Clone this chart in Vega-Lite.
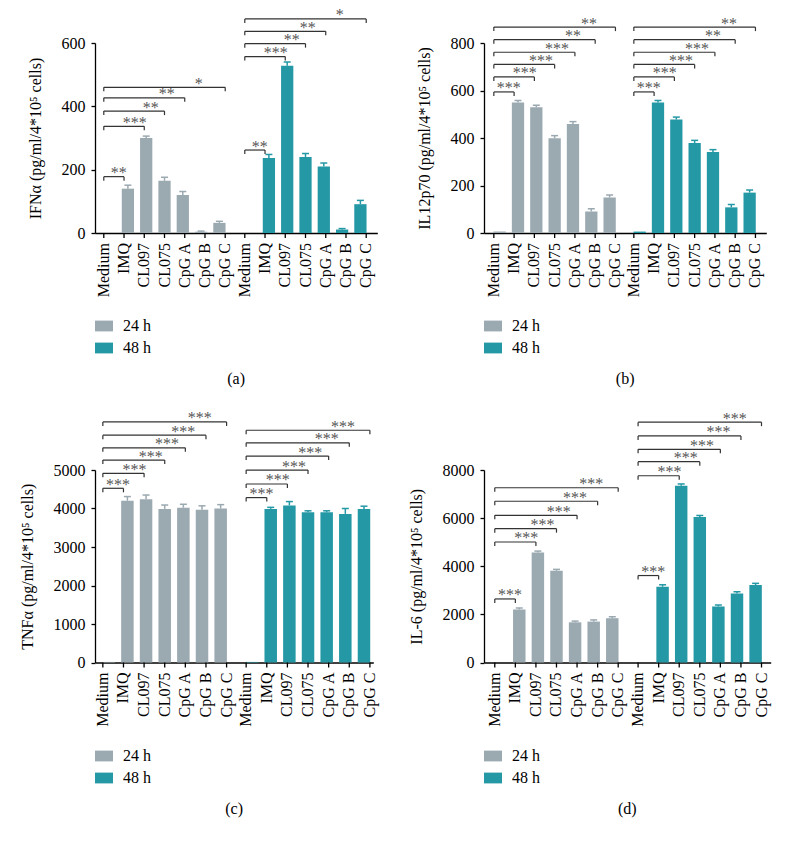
{
  "$schema": "https://vega.github.io/schema/vega-lite/v6.json",
  "padding": {"left": 19, "top": 7, "right": 5, "bottom": 5},
  "background": "white",
  "config": {
    "font": "Liberation Serif",
    "view": {"stroke": null},
    "axis": {"labelFont": "Liberation Serif", "titleFont": "Liberation Serif", "labelFontSize": 16, "titleFontSize": 16, "titleFontWeight": "normal", "labelColor": "#000", "titleColor": "#000", "domainColor": "#000", "tickColor": "#000", "grid": false, "domainWidth": 1.3, "tickWidth": 1.3, "tickSize": 4, "labelPadding": 6, "titlePadding": 18, "labelOverlap": false},
    "legend": {"labelFont": "Liberation Serif", "labelFontSize": 16, "labelColor": "#000"},
    "title": {"font": "Liberation Serif", "fontSize": 16, "fontWeight": "normal", "color": "#000"}
  },
  "datasets": {
    "bars": [
      {"panel": "a", "time": "24 h", "treatment": "Medium", "value": 0, "upper": null},
      {"panel": "a", "time": "24 h", "treatment": "IMQ", "value": 140, "upper": 151},
      {"panel": "a", "time": "24 h", "treatment": "CL097", "value": 300, "upper": 306},
      {"panel": "a", "time": "24 h", "treatment": "CL075", "value": 165, "upper": 176},
      {"panel": "a", "time": "24 h", "treatment": "CpG A", "value": 120, "upper": 131},
      {"panel": "a", "time": "24 h", "treatment": "CpG B", "value": 4, "upper": 6},
      {"panel": "a", "time": "24 h", "treatment": "CpG C", "value": 32, "upper": 37},
      {"panel": "a", "time": "48 h", "treatment": "Medium", "value": 0, "upper": null},
      {"panel": "a", "time": "48 h", "treatment": "IMQ", "value": 237, "upper": 248},
      {"panel": "a", "time": "48 h", "treatment": "CL097", "value": 528, "upper": 540},
      {"panel": "a", "time": "48 h", "treatment": "CL075", "value": 240, "upper": 251},
      {"panel": "a", "time": "48 h", "treatment": "CpG A", "value": 210, "upper": 221},
      {"panel": "a", "time": "48 h", "treatment": "CpG B", "value": 11, "upper": 14},
      {"panel": "a", "time": "48 h", "treatment": "CpG C", "value": 91, "upper": 103},
      {"panel": "b", "time": "24 h", "treatment": "Medium", "value": 6, "upper": null},
      {"panel": "b", "time": "24 h", "treatment": "IMQ", "value": 550, "upper": 558},
      {"panel": "b", "time": "24 h", "treatment": "CL097", "value": 529, "upper": 538},
      {"panel": "b", "time": "24 h", "treatment": "CL075", "value": 399, "upper": 410},
      {"panel": "b", "time": "24 h", "treatment": "CpG A", "value": 459, "upper": 469},
      {"panel": "b", "time": "24 h", "treatment": "CpG B", "value": 91, "upper": 102},
      {"panel": "b", "time": "24 h", "treatment": "CpG C", "value": 149, "upper": 160},
      {"panel": "b", "time": "48 h", "treatment": "Medium", "value": 6, "upper": null},
      {"panel": "b", "time": "48 h", "treatment": "IMQ", "value": 550, "upper": 558},
      {"panel": "b", "time": "48 h", "treatment": "CL097", "value": 478, "upper": 488},
      {"panel": "b", "time": "48 h", "treatment": "CL075", "value": 379, "upper": 390},
      {"panel": "b", "time": "48 h", "treatment": "CpG A", "value": 341, "upper": 351},
      {"panel": "b", "time": "48 h", "treatment": "CpG B", "value": 108, "upper": 120},
      {"panel": "b", "time": "48 h", "treatment": "CpG C", "value": 170, "upper": 181},
      {"panel": "c", "time": "24 h", "treatment": "Medium", "value": 15, "upper": null},
      {"panel": "c", "time": "24 h", "treatment": "IMQ", "value": 4200, "upper": 4310},
      {"panel": "c", "time": "24 h", "treatment": "CL097", "value": 4240, "upper": 4350},
      {"panel": "c", "time": "24 h", "treatment": "CL075", "value": 3990, "upper": 4090},
      {"panel": "c", "time": "24 h", "treatment": "CpG A", "value": 4020, "upper": 4110},
      {"panel": "c", "time": "24 h", "treatment": "CpG B", "value": 3970, "upper": 4070},
      {"panel": "c", "time": "24 h", "treatment": "CpG C", "value": 4000, "upper": 4100},
      {"panel": "c", "time": "48 h", "treatment": "Medium", "value": 15, "upper": null},
      {"panel": "c", "time": "48 h", "treatment": "IMQ", "value": 3990, "upper": 4030},
      {"panel": "c", "time": "48 h", "treatment": "CL097", "value": 4080, "upper": 4180},
      {"panel": "c", "time": "48 h", "treatment": "CL075", "value": 3900, "upper": 3940},
      {"panel": "c", "time": "48 h", "treatment": "CpG A", "value": 3900, "upper": 3940},
      {"panel": "c", "time": "48 h", "treatment": "CpG B", "value": 3860, "upper": 4000},
      {"panel": "c", "time": "48 h", "treatment": "CpG C", "value": 3990, "upper": 4060},
      {"panel": "d", "time": "24 h", "treatment": "Medium", "value": 0, "upper": null},
      {"panel": "d", "time": "24 h", "treatment": "IMQ", "value": 2200, "upper": 2270},
      {"panel": "d", "time": "24 h", "treatment": "CL097", "value": 4570, "upper": 4630},
      {"panel": "d", "time": "24 h", "treatment": "CL075", "value": 3810, "upper": 3870},
      {"panel": "d", "time": "24 h", "treatment": "CpG A", "value": 1670, "upper": 1720},
      {"panel": "d", "time": "24 h", "treatment": "CpG B", "value": 1700, "upper": 1770},
      {"panel": "d", "time": "24 h", "treatment": "CpG C", "value": 1840, "upper": 1900},
      {"panel": "d", "time": "48 h", "treatment": "Medium", "value": 0, "upper": null},
      {"panel": "d", "time": "48 h", "treatment": "IMQ", "value": 3150, "upper": 3230},
      {"panel": "d", "time": "48 h", "treatment": "CL097", "value": 7350, "upper": 7420},
      {"panel": "d", "time": "48 h", "treatment": "CL075", "value": 6050, "upper": 6110},
      {"panel": "d", "time": "48 h", "treatment": "CpG A", "value": 2330, "upper": 2390},
      {"panel": "d", "time": "48 h", "treatment": "CpG B", "value": 2870, "upper": 2940},
      {"panel": "d", "time": "48 h", "treatment": "CpG C", "value": 3220, "upper": 3290}
    ],
    "brackets": [
      {"panel": "a", "time": "24 h", "from": "Medium", "to": "IMQ", "level": 178, "label": "**"},
      {"panel": "a", "time": "24 h", "from": "Medium", "to": "CL097", "level": 337, "label": "***"},
      {"panel": "a", "time": "24 h", "from": "Medium", "to": "CL075", "level": 385, "label": "**"},
      {"panel": "a", "time": "24 h", "from": "Medium", "to": "CpG A", "level": 427, "label": "**"},
      {"panel": "a", "time": "24 h", "from": "Medium", "to": "CpG C", "level": 460, "label": "*"},
      {"panel": "a", "time": "48 h", "from": "Medium", "to": "IMQ", "level": 262, "label": "**"},
      {"panel": "a", "time": "48 h", "from": "Medium", "to": "CL097", "level": 557, "label": "***"},
      {"panel": "a", "time": "48 h", "from": "Medium", "to": "CL075", "level": 598, "label": "**"},
      {"panel": "a", "time": "48 h", "from": "Medium", "to": "CpG A", "level": 637, "label": "**"},
      {"panel": "a", "time": "48 h", "from": "Medium", "to": "CpG C", "level": 676, "label": "*"},
      {"panel": "b", "time": "24 h", "from": "Medium", "to": "IMQ", "level": 594, "label": "***"},
      {"panel": "b", "time": "24 h", "from": "Medium", "to": "CL097", "level": 657, "label": "***"},
      {"panel": "b", "time": "24 h", "from": "Medium", "to": "CL075", "level": 710, "label": "***"},
      {"panel": "b", "time": "24 h", "from": "Medium", "to": "CpG A", "level": 761, "label": "***"},
      {"panel": "b", "time": "24 h", "from": "Medium", "to": "CpG B", "level": 814, "label": "**"},
      {"panel": "b", "time": "24 h", "from": "Medium", "to": "CpG C", "level": 867, "label": "**"},
      {"panel": "b", "time": "48 h", "from": "Medium", "to": "IMQ", "level": 594, "label": "***"},
      {"panel": "b", "time": "48 h", "from": "Medium", "to": "CL097", "level": 657, "label": "***"},
      {"panel": "b", "time": "48 h", "from": "Medium", "to": "CL075", "level": 710, "label": "***"},
      {"panel": "b", "time": "48 h", "from": "Medium", "to": "CpG A", "level": 761, "label": "***"},
      {"panel": "b", "time": "48 h", "from": "Medium", "to": "CpG B", "level": 814, "label": "**"},
      {"panel": "b", "time": "48 h", "from": "Medium", "to": "CpG C", "level": 867, "label": "**"},
      {"panel": "c", "time": "24 h", "from": "Medium", "to": "IMQ", "level": 4525, "label": "***"},
      {"panel": "c", "time": "24 h", "from": "Medium", "to": "CL097", "level": 4913, "label": "***"},
      {"panel": "c", "time": "24 h", "from": "Medium", "to": "CL075", "level": 5257, "label": "***"},
      {"panel": "c", "time": "24 h", "from": "Medium", "to": "CpG A", "level": 5576, "label": "***"},
      {"panel": "c", "time": "24 h", "from": "Medium", "to": "CpG B", "level": 5904, "label": "***"},
      {"panel": "c", "time": "24 h", "from": "Medium", "to": "CpG C", "level": 6248, "label": "***"},
      {"panel": "c", "time": "48 h", "from": "Medium", "to": "IMQ", "level": 4283, "label": "***"},
      {"panel": "c", "time": "48 h", "from": "Medium", "to": "CL097", "level": 4637, "label": "***"},
      {"panel": "c", "time": "48 h", "from": "Medium", "to": "CL075", "level": 4999, "label": "***"},
      {"panel": "c", "time": "48 h", "from": "Medium", "to": "CpG A", "level": 5361, "label": "***"},
      {"panel": "c", "time": "48 h", "from": "Medium", "to": "CpG B", "level": 5705, "label": "***"},
      {"panel": "c", "time": "48 h", "from": "Medium", "to": "CpG C", "level": 6033, "label": "***"},
      {"panel": "d", "time": "24 h", "from": "Medium", "to": "IMQ", "level": 2641, "label": "***"},
      {"panel": "d", "time": "24 h", "from": "Medium", "to": "CL097", "level": 5008, "label": "***"},
      {"panel": "d", "time": "24 h", "from": "Medium", "to": "CL075", "level": 5563, "label": "***"},
      {"panel": "d", "time": "24 h", "from": "Medium", "to": "CpG A", "level": 6118, "label": "***"},
      {"panel": "d", "time": "24 h", "from": "Medium", "to": "CpG B", "level": 6702, "label": "***"},
      {"panel": "d", "time": "24 h", "from": "Medium", "to": "CpG C", "level": 7262, "label": "***"},
      {"panel": "d", "time": "48 h", "from": "Medium", "to": "IMQ", "level": 3614, "label": "***"},
      {"panel": "d", "time": "48 h", "from": "Medium", "to": "CL097", "level": 7762, "label": "***"},
      {"panel": "d", "time": "48 h", "from": "Medium", "to": "CL075", "level": 8347, "label": "***"},
      {"panel": "d", "time": "48 h", "from": "Medium", "to": "CpG A", "level": 8860, "label": "***"},
      {"panel": "d", "time": "48 h", "from": "Medium", "to": "CpG B", "level": 9415, "label": "***"},
      {"panel": "d", "time": "48 h", "from": "Medium", "to": "CpG C", "level": 9987, "label": "***"}
    ]
  },
  "resolve": {"legend": {"color": "independent"}},
  "columns": 2,
  "spacing": {"row": 23, "column": 30},
  "concat": [
    {
      "width": 282.3, "height": 190,
      "title": {"text": "(a)", "orient": "bottom", "anchor": "middle", "offset": 15},
      "resolve": {"scale": {"xOffset": "independent"}},
      "layer": [
        {"data": {"name": "bars"}, "transform": [{"filter": "datum.panel == 'a'"}], "mark": {"type": "bar"},
         "encoding": {
           "x": {"field": "time", "type": "nominal", "scale": {"domain": ["24 h", "48 h"], "paddingInner": 0.0915, "paddingOuter": 0.0468, "align": 0.413}, "axis": {"labels": false, "ticks": false, "title": null}},
           "xOffset": {"field": "treatment", "type": "nominal", "scale": {"domain": ["Medium", "IMQ", "CL097", "CL075", "CpG A", "CpG B", "CpG C"], "paddingInner": 0.33, "paddingOuter": 0.165}},
           "y": {"field": "value", "type": "quantitative", "scale": {"domain": [0, 600]}, "axis": {"values": [0, 200, 400, 600], "tickCount": 10, "format": "d", "title": "IFNα (pg/ml/4*10⁵ cells)"}},
           "color": {"field": "time", "type": "nominal", "scale": {"domain": ["24 h", "48 h"], "range": ["#9ba9b1", "#2598a5"]}, "legend": {"orient": "bottom", "direction": "vertical", "title": null, "symbolType": "M-1,-0.6H1V0.6H-1Z", "symbolSize": 324, "symbolStrokeWidth": 0, "labelOffset": 10, "rowPadding": 5, "offset": 84}}
         }},
        {"data": {"name": "bars"}, "transform": [{"filter": "datum.panel == 'a' && datum.upper != null"}], "mark": {"type": "rule", "strokeWidth": 1.5},
         "encoding": {
           "x": {"field": "time", "type": "nominal"},
           "xOffset": {"field": "treatment", "type": "nominal", "scale": {"domain": ["Medium", "IMQ", "CL097", "CL075", "CpG A", "CpG B", "CpG C"], "paddingInner": 0.33, "paddingOuter": 0.165}},
           "y": {"field": "value", "type": "quantitative"}, "y2": {"field": "upper"},
           "color": {"field": "time", "type": "nominal", "legend": null}
         }},
        {"data": {"name": "bars"}, "transform": [{"filter": "datum.panel == 'a' && datum.upper != null"}], "mark": {"type": "tick", "size": 7, "thickness": 1.5, "opacity": 1},
         "encoding": {
           "x": {"field": "time", "type": "nominal"},
           "xOffset": {"field": "treatment", "type": "nominal", "scale": {"domain": ["Medium", "IMQ", "CL097", "CL075", "CpG A", "CpG B", "CpG C"], "paddingInner": 0.33, "paddingOuter": 0.165}},
           "y": {"field": "upper", "type": "quantitative"},
           "color": {"field": "time", "type": "nominal", "legend": null}
         }},
        {"data": {"name": "bars"}, "transform": [{"filter": "datum.panel == 'a'"}], "mark": {"type": "point", "shape": "M0,0L0,1", "size": 100, "filled": false, "color": "#000", "strokeWidth": 1.3, "opacity": 1},
         "encoding": {
           "x": {"field": "time", "type": "nominal"},
           "xOffset": {"field": "treatment", "type": "nominal", "scale": {"domain": ["Medium", "IMQ", "CL097", "CL075", "CpG A", "CpG B", "CpG C"], "paddingInner": 0.33, "paddingOuter": 0.165}},
           "y": {"datum": 0}
         }},
        {"data": {"name": "bars"}, "transform": [{"filter": "datum.panel == 'a'"}], "mark": {"type": "text", "angle": 270, "align": "right", "baseline": "middle", "dx": -10, "fontSize": 16, "color": "#000"},
         "encoding": {
           "x": {"field": "time", "type": "nominal"},
           "xOffset": {"field": "treatment", "type": "nominal", "scale": {"domain": ["Medium", "IMQ", "CL097", "CL075", "CpG A", "CpG B", "CpG C"], "paddingInner": 0.33, "paddingOuter": 0.165}},
           "y": {"datum": 0},
           "text": {"field": "treatment"}
         }},
        {"data": {"name": "brackets"}, "transform": [{"filter": "datum.panel == 'a'"}, {"fold": ["from", "to"], "as": ["end", "treatment"]}], "mark": {"type": "line", "color": "#333", "strokeWidth": 1.2},
         "encoding": {
           "x": {"field": "time", "type": "nominal"},
           "xOffset": {"field": "treatment", "type": "nominal", "scale": {"domain": ["Medium", "IMQ", "CL097", "CL075", "CpG A", "CpG B", "CpG C"], "paddingInner": 0.33, "paddingOuter": 0.165}},
           "y": {"field": "level", "type": "quantitative"},
           "detail": [{"field": "time"}, {"field": "to"}]
         }},
        {"data": {"name": "brackets"}, "transform": [{"filter": "datum.panel == 'a'"}, {"fold": ["from", "to"], "as": ["end", "treatment"]}], "mark": {"type": "point", "shape": "M0,0L0,1", "size": 64, "filled": false, "color": "#333", "strokeWidth": 1.2, "opacity": 1},
         "encoding": {
           "x": {"field": "time", "type": "nominal"},
           "xOffset": {"field": "treatment", "type": "nominal", "scale": {"domain": ["Medium", "IMQ", "CL097", "CL075", "CpG A", "CpG B", "CpG C"], "paddingInner": 0.33, "paddingOuter": 0.165}},
           "y": {"field": "level", "type": "quantitative"}
         }},
        {"data": {"name": "brackets"}, "transform": [{"filter": "datum.panel == 'a'"}], "mark": {"type": "text", "baseline": "alphabetic", "align": "center", "dy": 1.5, "fontSize": 16, "color": "#555"},
         "encoding": {
           "x": {"field": "time", "type": "nominal"},
           "xOffset": {"field": "to", "type": "nominal", "scale": {"domain": ["Medium", "IMQ", "CL097", "CL075", "CpG A", "CpG B", "CpG C"], "paddingInner": 0, "paddingOuter": 3.5, "align": 0.0714286}},
           "y": {"field": "level", "type": "quantitative"},
           "text": {"field": "label"}
         }}
      ]
    },
    {
      "width": 282.3, "height": 190,
      "title": {"text": "(b)", "orient": "bottom", "anchor": "middle", "offset": 15},
      "resolve": {"scale": {"xOffset": "independent"}},
      "layer": [
        {"data": {"name": "bars"}, "transform": [{"filter": "datum.panel == 'b'"}], "mark": {"type": "bar"},
         "encoding": {
           "x": {"field": "time", "type": "nominal", "scale": {"domain": ["24 h", "48 h"], "paddingInner": 0.0836, "paddingOuter": 0.05, "align": 0.464}, "axis": {"labels": false, "ticks": false, "title": null}},
           "xOffset": {"field": "treatment", "type": "nominal", "scale": {"domain": ["Medium", "IMQ", "CL097", "CL075", "CpG A", "CpG B", "CpG C"], "paddingInner": 0.33, "paddingOuter": 0.165}},
           "y": {"field": "value", "type": "quantitative", "scale": {"domain": [0, 800]}, "axis": {"values": [0, 200, 400, 600, 800], "tickCount": 10, "format": "d", "title": "IL12p70 (pg/ml/4*10⁵ cells)"}},
           "color": {"field": "time", "type": "nominal", "scale": {"domain": ["24 h", "48 h"], "range": ["#9ba9b1", "#2598a5"]}, "legend": {"orient": "bottom", "direction": "vertical", "title": null, "symbolType": "M-1,-0.6H1V0.6H-1Z", "symbolSize": 324, "symbolStrokeWidth": 0, "labelOffset": 10, "rowPadding": 5, "offset": 84}}
         }},
        {"data": {"name": "bars"}, "transform": [{"filter": "datum.panel == 'b' && datum.upper != null"}], "mark": {"type": "rule", "strokeWidth": 1.5},
         "encoding": {
           "x": {"field": "time", "type": "nominal"},
           "xOffset": {"field": "treatment", "type": "nominal", "scale": {"domain": ["Medium", "IMQ", "CL097", "CL075", "CpG A", "CpG B", "CpG C"], "paddingInner": 0.33, "paddingOuter": 0.165}},
           "y": {"field": "value", "type": "quantitative"}, "y2": {"field": "upper"},
           "color": {"field": "time", "type": "nominal", "legend": null}
         }},
        {"data": {"name": "bars"}, "transform": [{"filter": "datum.panel == 'b' && datum.upper != null"}], "mark": {"type": "tick", "size": 7, "thickness": 1.5, "opacity": 1},
         "encoding": {
           "x": {"field": "time", "type": "nominal"},
           "xOffset": {"field": "treatment", "type": "nominal", "scale": {"domain": ["Medium", "IMQ", "CL097", "CL075", "CpG A", "CpG B", "CpG C"], "paddingInner": 0.33, "paddingOuter": 0.165}},
           "y": {"field": "upper", "type": "quantitative"},
           "color": {"field": "time", "type": "nominal", "legend": null}
         }},
        {"data": {"name": "bars"}, "transform": [{"filter": "datum.panel == 'b'"}], "mark": {"type": "point", "shape": "M0,0L0,1", "size": 100, "filled": false, "color": "#000", "strokeWidth": 1.3, "opacity": 1},
         "encoding": {
           "x": {"field": "time", "type": "nominal"},
           "xOffset": {"field": "treatment", "type": "nominal", "scale": {"domain": ["Medium", "IMQ", "CL097", "CL075", "CpG A", "CpG B", "CpG C"], "paddingInner": 0.33, "paddingOuter": 0.165}},
           "y": {"datum": 0}
         }},
        {"data": {"name": "bars"}, "transform": [{"filter": "datum.panel == 'b'"}], "mark": {"type": "text", "angle": 270, "align": "right", "baseline": "middle", "dx": -10, "fontSize": 16, "color": "#000"},
         "encoding": {
           "x": {"field": "time", "type": "nominal"},
           "xOffset": {"field": "treatment", "type": "nominal", "scale": {"domain": ["Medium", "IMQ", "CL097", "CL075", "CpG A", "CpG B", "CpG C"], "paddingInner": 0.33, "paddingOuter": 0.165}},
           "y": {"datum": 0},
           "text": {"field": "treatment"}
         }},
        {"data": {"name": "brackets"}, "transform": [{"filter": "datum.panel == 'b'"}, {"fold": ["from", "to"], "as": ["end", "treatment"]}], "mark": {"type": "line", "color": "#333", "strokeWidth": 1.2},
         "encoding": {
           "x": {"field": "time", "type": "nominal"},
           "xOffset": {"field": "treatment", "type": "nominal", "scale": {"domain": ["Medium", "IMQ", "CL097", "CL075", "CpG A", "CpG B", "CpG C"], "paddingInner": 0.33, "paddingOuter": 0.165}},
           "y": {"field": "level", "type": "quantitative"},
           "detail": [{"field": "time"}, {"field": "to"}]
         }},
        {"data": {"name": "brackets"}, "transform": [{"filter": "datum.panel == 'b'"}, {"fold": ["from", "to"], "as": ["end", "treatment"]}], "mark": {"type": "point", "shape": "M0,0L0,1", "size": 64, "filled": false, "color": "#333", "strokeWidth": 1.2, "opacity": 1},
         "encoding": {
           "x": {"field": "time", "type": "nominal"},
           "xOffset": {"field": "treatment", "type": "nominal", "scale": {"domain": ["Medium", "IMQ", "CL097", "CL075", "CpG A", "CpG B", "CpG C"], "paddingInner": 0.33, "paddingOuter": 0.165}},
           "y": {"field": "level", "type": "quantitative"}
         }},
        {"data": {"name": "brackets"}, "transform": [{"filter": "datum.panel == 'b'"}], "mark": {"type": "text", "baseline": "alphabetic", "align": "center", "dy": 1.5, "fontSize": 16, "color": "#555"},
         "encoding": {
           "x": {"field": "time", "type": "nominal"},
           "xOffset": {"field": "to", "type": "nominal", "scale": {"domain": ["Medium", "IMQ", "CL097", "CL075", "CpG A", "CpG B", "CpG C"], "paddingInner": 0, "paddingOuter": 3.5, "align": 0.0714286}},
           "y": {"field": "level", "type": "quantitative"},
           "text": {"field": "label"}
         }}
      ]
    },
    {
      "width": 278.3, "height": 192.5,
      "title": {"text": "(c)", "orient": "bottom", "anchor": "middle", "offset": 15},
      "resolve": {"scale": {"xOffset": "independent"}},
      "layer": [
        {"data": {"name": "bars"}, "transform": [{"filter": "datum.panel == 'c'"}], "mark": {"type": "bar"},
         "encoding": {
           "x": {"field": "time", "type": "nominal", "scale": {"domain": ["24 h", "48 h"], "paddingInner": 0.089, "paddingOuter": 0.0155, "align": 1}, "axis": {"labels": false, "ticks": false, "title": null}},
           "xOffset": {"field": "treatment", "type": "nominal", "scale": {"domain": ["Medium", "IMQ", "CL097", "CL075", "CpG A", "CpG B", "CpG C"], "paddingInner": 0.33, "paddingOuter": 0.165}},
           "y": {"field": "value", "type": "quantitative", "scale": {"domain": [0, 5000]}, "axis": {"values": [0, 1000, 2000, 3000, 4000, 5000], "tickCount": 10, "format": "d", "title": "TNFα (pg/ml/4*10⁵ cells)"}},
           "color": {"field": "time", "type": "nominal", "scale": {"domain": ["24 h", "48 h"], "range": ["#9ba9b1", "#2598a5"]}, "legend": {"orient": "bottom", "direction": "vertical", "title": null, "symbolType": "M-1,-0.6H1V0.6H-1Z", "symbolSize": 324, "symbolStrokeWidth": 0, "labelOffset": 10, "rowPadding": 5, "offset": 84}}
         }},
        {"data": {"name": "bars"}, "transform": [{"filter": "datum.panel == 'c' && datum.upper != null"}], "mark": {"type": "rule", "strokeWidth": 1.5},
         "encoding": {
           "x": {"field": "time", "type": "nominal"},
           "xOffset": {"field": "treatment", "type": "nominal", "scale": {"domain": ["Medium", "IMQ", "CL097", "CL075", "CpG A", "CpG B", "CpG C"], "paddingInner": 0.33, "paddingOuter": 0.165}},
           "y": {"field": "value", "type": "quantitative"}, "y2": {"field": "upper"},
           "color": {"field": "time", "type": "nominal", "legend": null}
         }},
        {"data": {"name": "bars"}, "transform": [{"filter": "datum.panel == 'c' && datum.upper != null"}], "mark": {"type": "tick", "size": 7, "thickness": 1.5, "opacity": 1},
         "encoding": {
           "x": {"field": "time", "type": "nominal"},
           "xOffset": {"field": "treatment", "type": "nominal", "scale": {"domain": ["Medium", "IMQ", "CL097", "CL075", "CpG A", "CpG B", "CpG C"], "paddingInner": 0.33, "paddingOuter": 0.165}},
           "y": {"field": "upper", "type": "quantitative"},
           "color": {"field": "time", "type": "nominal", "legend": null}
         }},
        {"data": {"name": "bars"}, "transform": [{"filter": "datum.panel == 'c'"}], "mark": {"type": "point", "shape": "M0,0L0,1", "size": 100, "filled": false, "color": "#000", "strokeWidth": 1.3, "opacity": 1},
         "encoding": {
           "x": {"field": "time", "type": "nominal"},
           "xOffset": {"field": "treatment", "type": "nominal", "scale": {"domain": ["Medium", "IMQ", "CL097", "CL075", "CpG A", "CpG B", "CpG C"], "paddingInner": 0.33, "paddingOuter": 0.165}},
           "y": {"datum": 0}
         }},
        {"data": {"name": "bars"}, "transform": [{"filter": "datum.panel == 'c'"}], "mark": {"type": "text", "angle": 270, "align": "right", "baseline": "middle", "dx": -10, "fontSize": 16, "color": "#000"},
         "encoding": {
           "x": {"field": "time", "type": "nominal"},
           "xOffset": {"field": "treatment", "type": "nominal", "scale": {"domain": ["Medium", "IMQ", "CL097", "CL075", "CpG A", "CpG B", "CpG C"], "paddingInner": 0.33, "paddingOuter": 0.165}},
           "y": {"datum": 0},
           "text": {"field": "treatment"}
         }},
        {"data": {"name": "brackets"}, "transform": [{"filter": "datum.panel == 'c'"}, {"fold": ["from", "to"], "as": ["end", "treatment"]}], "mark": {"type": "line", "color": "#333", "strokeWidth": 1.2},
         "encoding": {
           "x": {"field": "time", "type": "nominal"},
           "xOffset": {"field": "treatment", "type": "nominal", "scale": {"domain": ["Medium", "IMQ", "CL097", "CL075", "CpG A", "CpG B", "CpG C"], "paddingInner": 0.33, "paddingOuter": 0.165}},
           "y": {"field": "level", "type": "quantitative"},
           "detail": [{"field": "time"}, {"field": "to"}]
         }},
        {"data": {"name": "brackets"}, "transform": [{"filter": "datum.panel == 'c'"}, {"fold": ["from", "to"], "as": ["end", "treatment"]}], "mark": {"type": "point", "shape": "M0,0L0,1", "size": 64, "filled": false, "color": "#333", "strokeWidth": 1.2, "opacity": 1},
         "encoding": {
           "x": {"field": "time", "type": "nominal"},
           "xOffset": {"field": "treatment", "type": "nominal", "scale": {"domain": ["Medium", "IMQ", "CL097", "CL075", "CpG A", "CpG B", "CpG C"], "paddingInner": 0.33, "paddingOuter": 0.165}},
           "y": {"field": "level", "type": "quantitative"}
         }},
        {"data": {"name": "brackets"}, "transform": [{"filter": "datum.panel == 'c'"}], "mark": {"type": "text", "baseline": "alphabetic", "align": "center", "dy": 1.5, "fontSize": 16, "color": "#555"},
         "encoding": {
           "x": {"field": "time", "type": "nominal"},
           "xOffset": {"field": "to", "type": "nominal", "scale": {"domain": ["Medium", "IMQ", "CL097", "CL075", "CpG A", "CpG B", "CpG C"], "paddingInner": 0, "paddingOuter": 3.5, "align": 0.0714286}},
           "y": {"field": "level", "type": "quantitative"},
           "text": {"field": "label"}
         }}
      ]
    },
    {
      "width": 286.7, "height": 192.5,
      "title": {"text": "(d)", "orient": "bottom", "anchor": "middle", "offset": 15},
      "resolve": {"scale": {"xOffset": "independent"}},
      "layer": [
        {"data": {"name": "bars"}, "transform": [{"filter": "datum.panel == 'd'"}], "mark": {"type": "bar"},
         "encoding": {
           "x": {"field": "time", "type": "nominal", "scale": {"domain": ["24 h", "48 h"], "paddingInner": 0.0914, "paddingOuter": 0.046, "align": 0.56}, "axis": {"labels": false, "ticks": false, "title": null}},
           "xOffset": {"field": "treatment", "type": "nominal", "scale": {"domain": ["Medium", "IMQ", "CL097", "CL075", "CpG A", "CpG B", "CpG C"], "paddingInner": 0.33, "paddingOuter": 0.165}},
           "y": {"field": "value", "type": "quantitative", "scale": {"domain": [0, 8000]}, "axis": {"values": [0, 2000, 4000, 6000, 8000], "tickCount": 10, "format": "d", "title": "IL-6 (pg/ml/4*10⁵ cells)"}},
           "color": {"field": "time", "type": "nominal", "scale": {"domain": ["24 h", "48 h"], "range": ["#9ba9b1", "#2598a5"]}, "legend": {"orient": "bottom", "direction": "vertical", "title": null, "symbolType": "M-1,-0.6H1V0.6H-1Z", "symbolSize": 324, "symbolStrokeWidth": 0, "labelOffset": 10, "rowPadding": 5, "offset": 84}}
         }},
        {"data": {"name": "bars"}, "transform": [{"filter": "datum.panel == 'd' && datum.upper != null"}], "mark": {"type": "rule", "strokeWidth": 1.5},
         "encoding": {
           "x": {"field": "time", "type": "nominal"},
           "xOffset": {"field": "treatment", "type": "nominal", "scale": {"domain": ["Medium", "IMQ", "CL097", "CL075", "CpG A", "CpG B", "CpG C"], "paddingInner": 0.33, "paddingOuter": 0.165}},
           "y": {"field": "value", "type": "quantitative"}, "y2": {"field": "upper"},
           "color": {"field": "time", "type": "nominal", "legend": null}
         }},
        {"data": {"name": "bars"}, "transform": [{"filter": "datum.panel == 'd' && datum.upper != null"}], "mark": {"type": "tick", "size": 7, "thickness": 1.5, "opacity": 1},
         "encoding": {
           "x": {"field": "time", "type": "nominal"},
           "xOffset": {"field": "treatment", "type": "nominal", "scale": {"domain": ["Medium", "IMQ", "CL097", "CL075", "CpG A", "CpG B", "CpG C"], "paddingInner": 0.33, "paddingOuter": 0.165}},
           "y": {"field": "upper", "type": "quantitative"},
           "color": {"field": "time", "type": "nominal", "legend": null}
         }},
        {"data": {"name": "bars"}, "transform": [{"filter": "datum.panel == 'd'"}], "mark": {"type": "point", "shape": "M0,0L0,1", "size": 100, "filled": false, "color": "#000", "strokeWidth": 1.3, "opacity": 1},
         "encoding": {
           "x": {"field": "time", "type": "nominal"},
           "xOffset": {"field": "treatment", "type": "nominal", "scale": {"domain": ["Medium", "IMQ", "CL097", "CL075", "CpG A", "CpG B", "CpG C"], "paddingInner": 0.33, "paddingOuter": 0.165}},
           "y": {"datum": 0}
         }},
        {"data": {"name": "bars"}, "transform": [{"filter": "datum.panel == 'd'"}], "mark": {"type": "text", "angle": 270, "align": "right", "baseline": "middle", "dx": -10, "fontSize": 16, "color": "#000"},
         "encoding": {
           "x": {"field": "time", "type": "nominal"},
           "xOffset": {"field": "treatment", "type": "nominal", "scale": {"domain": ["Medium", "IMQ", "CL097", "CL075", "CpG A", "CpG B", "CpG C"], "paddingInner": 0.33, "paddingOuter": 0.165}},
           "y": {"datum": 0},
           "text": {"field": "treatment"}
         }},
        {"data": {"name": "brackets"}, "transform": [{"filter": "datum.panel == 'd'"}, {"fold": ["from", "to"], "as": ["end", "treatment"]}], "mark": {"type": "line", "color": "#333", "strokeWidth": 1.2},
         "encoding": {
           "x": {"field": "time", "type": "nominal"},
           "xOffset": {"field": "treatment", "type": "nominal", "scale": {"domain": ["Medium", "IMQ", "CL097", "CL075", "CpG A", "CpG B", "CpG C"], "paddingInner": 0.33, "paddingOuter": 0.165}},
           "y": {"field": "level", "type": "quantitative"},
           "detail": [{"field": "time"}, {"field": "to"}]
         }},
        {"data": {"name": "brackets"}, "transform": [{"filter": "datum.panel == 'd'"}, {"fold": ["from", "to"], "as": ["end", "treatment"]}], "mark": {"type": "point", "shape": "M0,0L0,1", "size": 64, "filled": false, "color": "#333", "strokeWidth": 1.2, "opacity": 1},
         "encoding": {
           "x": {"field": "time", "type": "nominal"},
           "xOffset": {"field": "treatment", "type": "nominal", "scale": {"domain": ["Medium", "IMQ", "CL097", "CL075", "CpG A", "CpG B", "CpG C"], "paddingInner": 0.33, "paddingOuter": 0.165}},
           "y": {"field": "level", "type": "quantitative"}
         }},
        {"data": {"name": "brackets"}, "transform": [{"filter": "datum.panel == 'd'"}], "mark": {"type": "text", "baseline": "alphabetic", "align": "center", "dy": 1.5, "fontSize": 16, "color": "#555"},
         "encoding": {
           "x": {"field": "time", "type": "nominal"},
           "xOffset": {"field": "to", "type": "nominal", "scale": {"domain": ["Medium", "IMQ", "CL097", "CL075", "CpG A", "CpG B", "CpG C"], "paddingInner": 0, "paddingOuter": 3.5, "align": 0.0714286}},
           "y": {"field": "level", "type": "quantitative"},
           "text": {"field": "label"}
         }}
      ]
    }
  ]
}
